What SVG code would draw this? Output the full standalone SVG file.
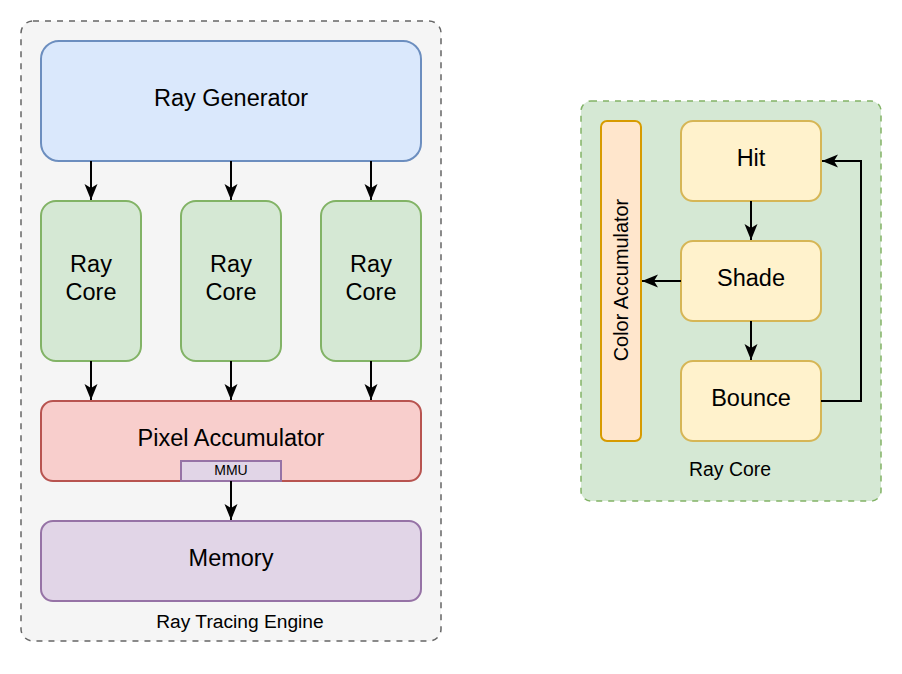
<svg xmlns="http://www.w3.org/2000/svg" width="902" height="674" viewBox="0 0 902 674">
<defs>
<style>
text{font-family:"Liberation Sans",Arial,Helvetica,sans-serif;fill:#000;text-anchor:middle;dominant-baseline:central}
.big{font-size:23.5px}
.lbl{font-size:19.2px}
.conn{fill:none;stroke:#000;stroke-width:2;marker-end:url(#arr)}
</style>
<marker id="arr" viewBox="0 0 16 14" refX="16" refY="7" markerWidth="16" markerHeight="14" markerUnits="userSpaceOnUse" orient="auto">
<path d="M0,0.5 L16,7 L0,13.5 L4,7 Z" fill="#000"/>
</marker>
</defs>
<rect width="902" height="674" fill="#fff"/>
<g id="engine">
<rect x="21" y="21" width="420" height="620" rx="12" fill="#f5f5f5" stroke="#666" stroke-width="1.5" stroke-dasharray="6 6"/>
<text x="240" y="621" class="lbl">Ray Tracing Engine</text>
</g>
<g id="ray-generator">
<rect x="41" y="41" width="380" height="120" rx="18" fill="#dae8fc" stroke="#6c8ebf" stroke-width="2"/>
<text x="231" y="98" class="big">Ray Generator</text>
</g>
<g id="ray-core-1">
<rect x="41" y="201" width="100" height="160" rx="15" fill="#d5e8d4" stroke="#82b366" stroke-width="2"/>
<text x="91" y="264" class="big">Ray</text>
<text x="91" y="292" class="big">Core</text>
</g>
<g id="ray-core-2">
<rect x="181" y="201" width="100" height="160" rx="15" fill="#d5e8d4" stroke="#82b366" stroke-width="2"/>
<text x="231" y="264" class="big">Ray</text>
<text x="231" y="292" class="big">Core</text>
</g>
<g id="ray-core-3">
<rect x="321" y="201" width="100" height="160" rx="15" fill="#d5e8d4" stroke="#82b366" stroke-width="2"/>
<text x="371" y="264" class="big">Ray</text>
<text x="371" y="292" class="big">Core</text>
</g>
<g id="pixel-accumulator">
<rect x="41" y="401" width="380" height="80" rx="12" fill="#f8cecc" stroke="#b85450" stroke-width="2"/>
<text x="231" y="438" class="big">Pixel Accumulator</text>
</g>
<g id="mmu">
<rect x="181" y="461" width="100" height="20" fill="#e1d5e7" stroke="#9673a6" stroke-width="2"/>
<text x="231" y="470" style="font-size:14px">MMU</text>
</g>
<g id="memory">
<rect x="41" y="521" width="380" height="80" rx="12" fill="#e1d5e7" stroke="#9673a6" stroke-width="2"/>
<text x="231" y="558" class="big">Memory</text>
</g>
<g id="ray-core-detail">
<rect x="581" y="101" width="300" height="400" rx="10" fill="#d5e8d4" stroke="#82b366" stroke-width="1.5" stroke-dasharray="6 6"/>
<text x="730" y="469" style="font-size:19.4px">Ray Core</text>
</g>
<g id="color-accumulator">
<rect x="601" y="121" width="40" height="320" rx="6" fill="#ffe6cc" stroke="#d79b00" stroke-width="2"/>
<text x="621" y="280" style="font-size:19.9px" transform="rotate(-90 621 280)">Color Accumulator</text>
</g>
<g id="hit">
<rect x="681" y="121" width="140" height="80" rx="12" fill="#fff2cc" stroke="#d6b656" stroke-width="2"/>
<text x="751" y="158" class="big">Hit</text>
</g>
<g id="shade">
<rect x="681" y="241" width="140" height="80" rx="12" fill="#fff2cc" stroke="#d6b656" stroke-width="2"/>
<text x="751" y="278" class="big">Shade</text>
</g>
<g id="bounce">
<rect x="681" y="361" width="140" height="80" rx="12" fill="#fff2cc" stroke="#d6b656" stroke-width="2"/>
<text x="751" y="398" class="big">Bounce</text>
</g>
<g id="connectors">
<path class="conn" d="M91,161 V200"/>
<path class="conn" d="M231,161 V200"/>
<path class="conn" d="M371,161 V200"/>
<path class="conn" d="M91,361 V400"/>
<path class="conn" d="M231,361 V400"/>
<path class="conn" d="M371,361 V400"/>
<path class="conn" d="M231,481 V520"/>
<path class="conn" d="M751,201 V240"/>
<path class="conn" d="M751,321 V360"/>
<path class="conn" d="M681,281 H642"/>
<path class="conn" d="M821,401 H861 V161 H822"/>
</g>
</svg>
